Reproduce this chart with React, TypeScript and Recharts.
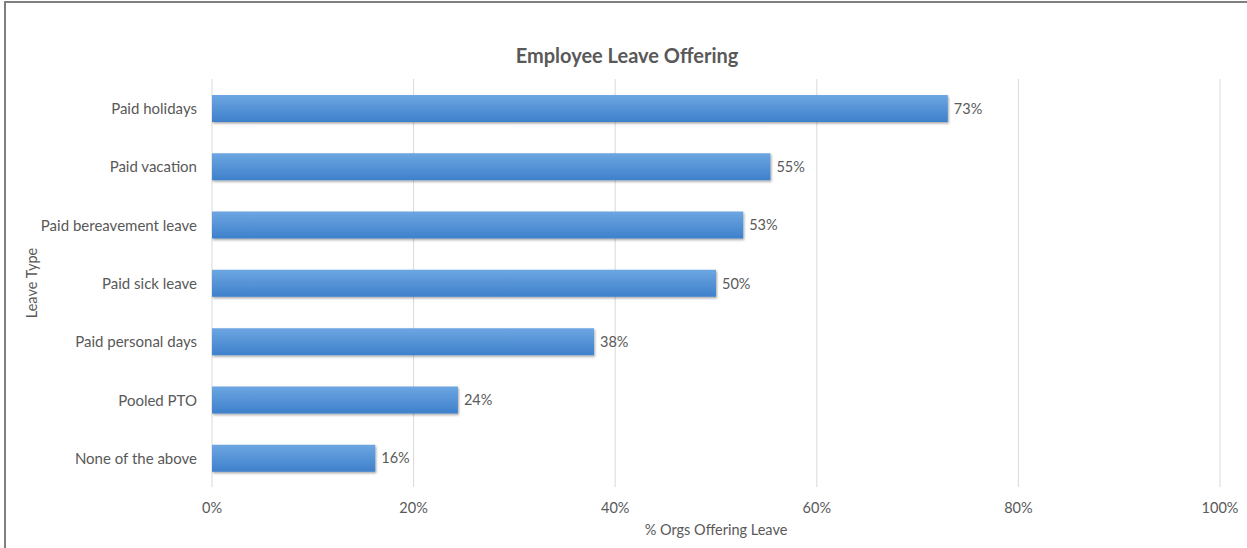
import React from 'react';
import { BarChart, Bar, XAxis, YAxis, CartesianGrid, LabelList } from 'recharts';

const leaveTypes = [
  'Paid holidays',
  'Paid vacation',
  'Paid bereavement leave',
  'Paid sick leave',
  'Paid personal days',
  'Pooled PTO',
  'None of the above',
];
// bar lengths; labels show them rounded
const offeringPct = [73.0, 55.4, 52.7, 50.0, 37.9, 24.4, 16.2];
const xTicks = [0, 20, 40, 60, 80, 100];

const data = leaveTypes.map((name, i) => ({ name, value: offeringPct[i] }));

const FONT = 'Lato, "Open Sans", sans-serif';
const GREY = '#595959';

const CategoryTick = ({ x, y, payload }: any) => (
  <text x={x - 7} y={y} textAnchor="end" dominantBaseline="central" fill={GREY} fontSize={15} fontFamily={FONT}>
    {payload.value}
  </text>
);

const PctTick = ({ x, y, payload }: any) => (
  <text x={x} y={y + 12} textAnchor="middle" dominantBaseline="central" fill={GREY} fontSize={14.5} fontFamily={FONT}>
    {payload.value}%
  </text>
);

export default function App() {
  return (
    <div style={{ position: 'absolute', top: 0, left: 0, width: 1247, height: 548, overflow: 'hidden', background: '#fff' }}>
      <div
        style={{
          position: 'absolute',
          left: 4,
          top: 1,
          width: 1400,
          height: 700,
          borderLeft: '2px solid #7f7f7f',
          borderTop: '2px solid #7f7f7f',
        }}
      />
      <div style={{ position: 'absolute', left: 0, top: 0 }}>
        <BarChart
          width={1247}
          height={548}
          data={data}
          layout="vertical"
          margin={{ top: 79, right: 27, bottom: 30, left: 42 }}
          barSize={27}
        >
          <defs>
            <linearGradient id="barFill" x1="0" y1="0" x2="0" y2="1">
              <stop offset="0%" stopColor="#6da6e2" />
              <stop offset="100%" stopColor="#3e80cb" />
            </linearGradient>
            <filter id="barShadow" x="-5%" y="-20%" width="110%" height="160%">
              <feDropShadow dx="1" dy="1.5" stdDeviation="1" floodColor="#000" floodOpacity="0.35" />
            </filter>
          </defs>
          <CartesianGrid horizontal={false} stroke="#d9d9d9" />
          <XAxis
            type="number"
            domain={[0, 100]}
            ticks={xTicks}
            axisLine={false}
            tickLine={false}
            tick={<PctTick />}
            height={31}
            interval={0}
          />
          <YAxis
            type="category"
            dataKey="name"
            width={170}
            axisLine={false}
            tickLine={false}
            tick={<CategoryTick />}
            interval={0}
          />
          <Bar dataKey="value" fill="url(#barFill)" filter="url(#barShadow)" isAnimationActive={false}>
            <LabelList
              dataKey="value"
              position="right"
              offset={6}
              formatter={(v: any) => `${Math.round(v)}%`}
              fill={GREY}
              fontSize={14.5}
              fontFamily={FONT}
            />
          </Bar>
          <text x={627} y={55} textAnchor="middle" dominantBaseline="central" fill={GREY} fontSize={20} fontWeight={700} fontFamily={FONT}>
            Employee Leave Offering
          </text>
          <text x={716} y={529} textAnchor="middle" dominantBaseline="central" fill={GREY} fontSize={14.5} fontFamily={FONT}>
            % Orgs Offering Leave
          </text>
          <text
            x={31}
            y={283}
            textAnchor="middle"
            dominantBaseline="central"
            fill={GREY}
            fontSize={14.5}
            fontFamily={FONT}
            transform="rotate(-90 31 283)"
          >
            Leave Type
          </text>
        </BarChart>
      </div>
    </div>
  );
}
